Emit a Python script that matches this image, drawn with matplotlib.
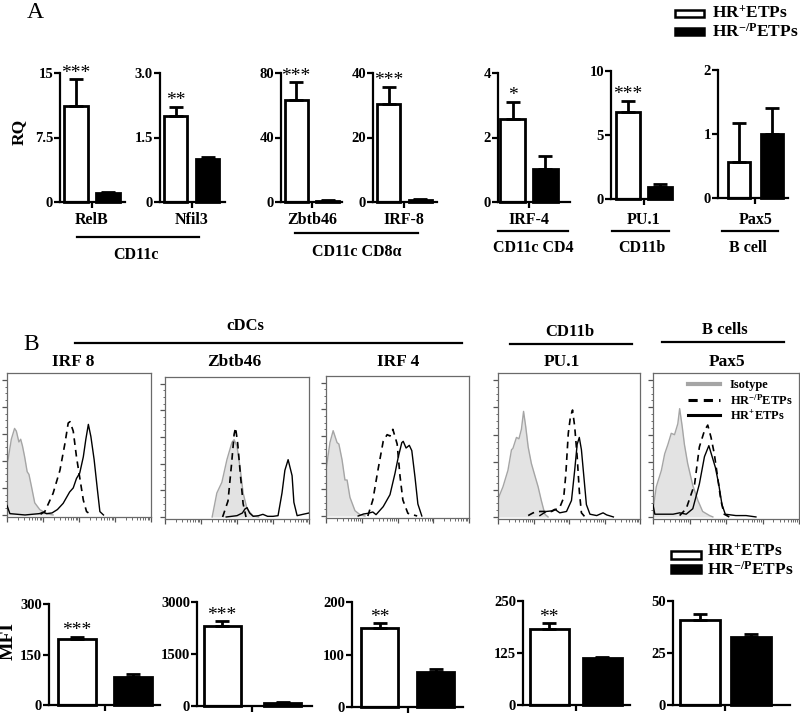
import matplotlib
matplotlib.use('Agg')
import matplotlib.pyplot as plt
import numpy as np
from matplotlib.lines import Line2D
from matplotlib.patches import Rectangle

plt.rcParams['font.family'] = ['Liberation Serif', 'DejaVu Serif']
plt.rcParams['font.weight'] = 'bold'
plt.rcParams['mathtext.fontset'] = 'custom'
plt.rcParams['mathtext.rm'] = 'Liberation Serif:bold'
plt.rcParams['mathtext.bf'] = 'Liberation Serif:bold'
plt.rcParams['mathtext.it'] = 'Liberation Serif:bold'

# ---------------- Panel A data (RQ) ----------------
rq_genes = ['RelB', 'Nfil3', 'Zbtb46', 'IRF-8', 'IRF-4', 'PU.1', 'Pax5']
rq_hr_pos = [11.2, 2.0, 63, 30.5, 2.56, 6.8, 0.57]
rq_hr_pos_err = [3.1, 0.22, 11.5, 5.3, 0.55, 0.88, 0.60]
rq_hr_neg = [1.0, 1.0, 0.8, 0.7, 1.02, 0.96, 1.0]
rq_hr_neg_err = [0.2, 0.05, 0.3, 0.2, 0.42, 0.21, 0.40]
rq_ymax = [15, 3.0, 80, 40, 4, 10, 2]
rq_ticklabels = [['0', '7.5', '15'], ['0', '1.5', '3.0'], ['0', '40', '80'],
                 ['0', '20', '40'], ['0', '2', '4'], ['0', '5', '10'], ['0', '1', '2']]
rq_stars = ['***', '**', '***', '***', '*', '***', '']
rq_groups = ['CD11c', 'CD11c CD8α', 'CD11c CD4', 'CD11b', 'B cell']

# ---------------- Panel B bottom data (MFI) ----------------
mfi_markers = ['IRF 8', 'Zbtb46', 'IRF 4', 'PU.1', 'Pax5']
mfi_hr_pos = [195, 2300, 150, 183, 41]
mfi_hr_pos_err = [8, 145, 10, 13, 2.8]
mfi_hr_neg = [84, 90, 66, 113, 32.5]
mfi_hr_neg_err = [8, 15, 6, 2, 1.6]
mfi_ymax = [300, 3000, 200, 250, 50]
mfi_ticklabels = [['0', '150', '300'], ['0', '1500', '3000'], ['0', '100', '200'],
                  ['0', '125', '250'], ['0', '25', '50']]
mfi_stars = ['***', '***', '**', '**', '']
hist_groups = ['cDCs', 'CD11b', 'B cells']

# ---------------- Histogram curves (x: log decades, y: % of max) ----------------
irf8_iso_x = [0.0, 0.03, 0.12, 0.21, 0.26, 0.33, 0.38, 0.43, 0.49, 0.56, 0.61, 0.68, 0.77, 0.91, 1.10, 1.28]
irf8_iso_y = [38, 41, 56, 64, 62, 54, 56, 51, 43, 32, 30, 21, 9, 4, 1, 0]
irf8_neg_x = [0.93, 1.05, 1.28, 1.47, 1.61, 1.70, 1.75, 1.84, 1.93, 2.03, 2.12, 2.21, 2.35]
irf8_neg_y = [0.5, 2.5, 16, 33, 53, 68, 69, 62, 43, 26, 11, 2.5, 0]
irf8_pos_x = [0.0, 0.08, 0.5, 0.9, 1.0, 1.1, 1.25, 1.4, 1.56, 1.74, 1.84, 1.93, 2.02, 2.12, 2.19, 2.26, 2.33, 2.42, 2.51, 2.58, 2.68]
irf8_pos_y = [7, 1, 0, 1, 2, 1, 1.5, 4, 8.6, 17, 20, 27, 31, 43, 56, 67, 58, 41, 19, 2.5, 0]

zbtb_iso_x = [1.31, 1.44, 1.58, 1.72, 1.86, 1.92, 2.0, 2.08, 2.17, 2.28, 2.44, 2.6]
zbtb_iso_y = [0, 18, 26, 43, 56, 58, 53, 38, 18, 6, 1, 0]
zbtb_neg_x = [1.6, 1.75, 1.85, 1.92, 1.96, 2.02, 2.1, 2.17, 2.25]
zbtb_neg_y = [0, 12, 40, 62, 67, 55, 30, 10, 0]
zbtb_pos_x = [1.7, 2.0, 2.15, 2.22, 2.28, 2.35, 2.45, 2.6, 2.72, 2.85, 3.0, 3.14, 3.25, 3.33, 3.42, 3.53, 3.58, 3.67, 3.83, 4.0]
zbtb_pos_y = [0, 1, 3, 6, 7, 3, 0.5, 1, 2, 0.5, 0.5, 1, 18, 35, 43, 31, 11, 1, 2, 3]

irf4_iso_x = [0.0, 0.03, 0.11, 0.2, 0.31, 0.36, 0.45, 0.53, 0.59, 0.67, 0.81, 0.95, 1.09]
irf4_iso_y = [35, 40, 55, 64, 55, 54, 42, 27, 27, 14, 4, 1, 0]
irf4_neg_x = [1.17, 1.31, 1.45, 1.6, 1.71, 1.79, 1.87, 1.99, 2.07, 2.15, 2.29, 2.55]
irf4_neg_y = [0, 12, 34, 56, 61, 60, 65, 54, 30, 12, 2, 0]
irf4_pos_x = [0.9, 1.05, 1.17, 1.31, 1.4, 1.6, 1.79, 1.93, 2.02, 2.12, 2.16, 2.24, 2.33, 2.4, 2.49, 2.57, 2.68]
irf4_pos_y = [0, 1.5, 2, 3, 1, 7, 16, 32, 44, 55, 56, 51, 53, 49, 29, 9, 0]

pu1_iso_x = [0.0, 0.03, 0.14, 0.28, 0.38, 0.42, 0.52, 0.59, 0.66, 0.72, 0.78, 0.85, 0.94, 1.04, 1.13, 1.22, 1.32, 1.41]
pu1_iso_y = [12, 15, 22, 34, 49, 50, 58, 57, 64, 77, 66, 51, 39, 30, 22, 12, 2, 0]
pu1_neg_x = [0.85, 0.99, 1.18, 1.51, 1.74, 1.85, 1.91, 1.98, 2.04, 2.1, 2.16, 2.23, 2.29, 2.35, 2.45]
pu1_neg_y = [1, 3, 4, 4, 7, 14, 31, 61, 73, 78, 66, 44, 19, 3, 0]
pu1_pos_x = [1.18, 1.36, 1.51, 1.6, 1.74, 1.93, 2.07, 2.16, 2.23, 2.29, 2.35, 2.42, 2.49, 2.59, 2.78, 2.96, 3.06, 3.25]
pu1_pos_y = [1, 4, 4.4, 5.6, 3, 4, 12, 34, 53, 58, 49, 29, 9, 2, 1, 3, 1.5, 0]

pax5_iso_x = [0.0, 0.02, 0.09, 0.23, 0.32, 0.41, 0.5, 0.59, 0.68, 0.73, 0.8, 0.86, 0.95, 1.09, 1.23, 1.36, 1.55, 1.64]
pax5_iso_y = [7, 9, 22, 34, 46, 53, 61, 60, 68, 79, 66, 53, 39, 23, 12, 4, 1, 0]
pax5_neg_x = [0.73, 0.91, 1.14, 1.27, 1.41, 1.5, 1.59, 1.68, 1.77, 1.86, 1.95, 2.09]
pax5_neg_y = [1, 6, 24, 51, 63, 67, 58, 46, 29, 12, 2, 0]
pax5_pos_x = [0.0, 0.05, 0.18, 0.55, 0.73, 0.91, 1.09, 1.27, 1.41, 1.53, 1.62, 1.71, 1.8, 1.89, 1.98, 2.27, 2.55, 2.82]
pax5_pos_y = [9, 2, 2, 2, 3, 2, 6, 24, 44, 52, 44, 36, 24, 9, 2, 1, 1, 0]

W, H = 800, 715
fig = plt.figure(figsize=(W / 100, H / 100), dpi=100)
fig.patch.set_facecolor('white')

LBL_POS = 'HR$^{+}$ETPs'
LBL_NEG = 'HR$^{-/P}$ETPs'


def px_axes(x0, y0, x1, y1):
    return fig.add_axes([x0 / W, 1 - y1 / H, (x1 - x0) / W, (y1 - y0) / H])


def ftext(x, y, s, **kw):
    kw.setdefault('ha', 'center')
    kw.setdefault('va', 'center')
    fig.text(x / W, 1 - y / H, s, **kw)


def fline(x0, x1, y, lw=1.6, color='black'):
    fig.add_artist(Line2D([x0 / W, x1 / W], [1 - y / H, 1 - y / H],
                          transform=fig.transFigure, color=color, lw=lw))


def frect(x0, y0, x1, y1, fc):
    fig.add_artist(Rectangle((x0 / W, 1 - y1 / H), (x1 - x0) / W, (y1 - y0) / H,
                             transform=fig.transFigure, facecolor=fc,
                             edgecolor='black', lw=1.8))


def bar_panel(box, c0, c1, w, vpos, epos, vneg, eneg, ymax, labels, star, fs=10.5):
    x0, y0, x1, y1 = box
    ax = px_axes(x0, y0, x1, y1)
    s = c1 - c0
    ax.set_xlim((x0 - c0) / s, (x1 - c0) / s)
    ax.set_ylim(0, ymax)
    ax.bar([0, 1], [vpos, vneg], width=w / s, color=['white', 'black'],
           edgecolor='black', linewidth=2.0, zorder=2, clip_on=False)
    ax.errorbar([0, 1], [vpos, vneg], yerr=[[0, 0], [epos, eneg]], fmt='none',
                ecolor='black', elinewidth=2.0, capsize=5, capthick=2.0, zorder=3,
                clip_on=False)
    for sp in ['top', 'right']:
        ax.spines[sp].set_visible(False)
    for sp in ['left', 'bottom']:
        ax.spines[sp].set_linewidth(1.6)
    ax.set_yticks([0, ymax / 2, ymax])
    ax.set_yticklabels(labels, fontsize=fs, fontweight='bold')
    ax.set_xticks([0.5])
    ax.set_xticklabels([''])
    ax.tick_params(axis='both', direction='out', length=4, width=1.6, pad=1)
    ax.patch.set_alpha(0)
    if star:
        ax.annotate(star, xy=(0, vpos + epos), xytext=(0, -2), textcoords='offset points',
                    ha='center', va='bottom', fontsize=14, fontweight='normal')
    return ax


# ---------------- Panel A ----------------
ftext(35, 12, 'A', fontsize=17, fontweight='normal')
ftext(19, 132, 'RQ', fontsize=12.5, rotation=90)

rq_geom = [
    ((60, 73, 125, 202), 76, 108, 24),
    ((160, 73, 225, 202), 175.5, 207.5, 23),
    ((281, 73, 342, 202), 296, 327.5, 23),
    ((373, 73, 437, 202), 388.5, 420, 23),
    ((498, 73, 570, 202), 512.5, 545, 25),
    ((611, 71, 672, 199), 627.5, 660, 24),
    ((718, 70, 788, 198), 739, 771.5, 22),
]
for i, (box, c0, c1, w) in enumerate(rq_geom):
    bar_panel(box, c0, c1, w, rq_hr_pos[i], rq_hr_pos_err[i], rq_hr_neg[i],
              rq_hr_neg_err[i], rq_ymax[i], rq_ticklabels[i], rq_stars[i])
    tick_x = c0 + 0.5 * (c1 - c0)
    ftext(tick_x, 220, rq_genes[i], fontsize=11.5)

# group lines / labels
grp_geom = [(77, 199, 237, 136, 255), (295, 418, 233, 357, 252),
            (498, 568, 231, 533, 248), (612, 669, 231, 642, 248),
            (722, 778, 231, 748, 248)]
for (gx0, gx1, gy, tx, ty), g in zip(grp_geom, rq_groups):
    fline(gx0, gx1, gy)
    ftext(tx, ty, g, fontsize=11.5)

# top legend
frect(675, 10, 704, 17, 'white')
frect(675, 28, 704, 35, 'black')
ftext(712, 14, LBL_POS, fontsize=12.5, ha='left')
ftext(712, 32, LBL_NEG, fontsize=12.5, ha='left')

# ---------------- Panel B histograms ----------------
ftext(31, 345, 'B', fontsize=17, fontweight='normal')
fline(75, 462, 343)
ftext(245, 326, hist_groups[0], fontsize=12)
fline(510, 632, 344)
ftext(570, 332, hist_groups[1], fontsize=12)
fline(662, 784, 342)
ftext(725, 330, hist_groups[2], fontsize=12)

hist_boxes = [(7, 373, 151, 517), (165, 377, 309, 519), (326, 376, 469, 518),
              (498, 373, 640, 519), (653, 373, 799, 519)]
title_x = [73, 234, 398, 562, 727]
curves = [
    (irf8_iso_x, irf8_iso_y, irf8_neg_x, irf8_neg_y, irf8_pos_x, irf8_pos_y),
    (zbtb_iso_x, zbtb_iso_y, zbtb_neg_x, zbtb_neg_y, zbtb_pos_x, zbtb_pos_y),
    (irf4_iso_x, irf4_iso_y, irf4_neg_x, irf4_neg_y, irf4_pos_x, irf4_pos_y),
    (pu1_iso_x, pu1_iso_y, pu1_neg_x, pu1_neg_y, pu1_pos_x, pu1_pos_y),
    (pax5_iso_x, pax5_iso_y, pax5_neg_x, pax5_neg_y, pax5_pos_x, pax5_pos_y),
]
minor_x = [k + np.log10(m) for k in range(4) for m in range(2, 10)]
for i, box in enumerate(hist_boxes):
    ax = px_axes(*box)
    ix, iy, nx, ny, px_, py_ = curves[i]
    ax.fill_between(ix, iy, 0, color='#e3e3e3', lw=0, zorder=1)
    ax.plot(ix, iy, color='#a5a5a5', lw=1.0, zorder=2)
    ax.plot(nx, ny, color='black', lw=1.2, ls=(0, (4, 3)), zorder=3)
    ax.plot(px_, py_, color='black', lw=1.0, zorder=4)
    ax.set_xlim(0, 4)
    ax.set_ylim(-1.5, 105)
    for sp in ax.spines.values():
        sp.set_color('#6a6a6a')
        sp.set_linewidth(0.9)
    ax.set_yticks(range(0, 101, 20))
    ax.set_yticks(range(0, 101, 5), minor=True)
    ax.set_xticks(range(0, 5))
    ax.set_xticks(minor_x, minor=True)
    ax.set_xticklabels([])
    ax.set_yticklabels([])
    ax.tick_params(which='major', direction='out', length=3.5, width=0.9, color='#555555')
    ax.tick_params(which='minor', direction='out', length=1.8, width=0.6, color='#555555')
    ftext(title_x[i], 362, mfi_markers[i], fontsize=12.5)
    if i == 4:
        h1, = ax.plot([], [], color='#a5a5a5', lw=3)
        h2, = ax.plot([], [], color='black', lw=2.2, ls=(0, (3, 2)))
        h3, = ax.plot([], [], color='black', lw=2.2)
        ax.legend([h1, h2, h3], ['Isotype', LBL_NEG, LBL_POS], loc='upper right',
                  frameon=False, fontsize=9, handlelength=2.6, handletextpad=0.8,
                  labelspacing=0.15, borderaxespad=0.3, borderpad=0.2)

# ---------------- Panel B bottom bars ----------------
ftext(8, 641, 'MFI', fontsize=14, rotation=90)
mfi_geom = [
    ((49, 604, 160, 705), 77, 132.5, 38),
    ((197, 602, 312, 706), 222, 282.5, 37),
    ((352, 602, 463, 707), 379.5, 435.5, 37),
    ((523, 601, 630, 705), 549, 602, 39),
    ((673, 601, 790, 705), 699.5, 751, 40),
]
for i, (box, c0, c1, w) in enumerate(mfi_geom):
    bar_panel(box, c0, c1, w, mfi_hr_pos[i], mfi_hr_pos_err[i], mfi_hr_neg[i],
              mfi_hr_neg_err[i], mfi_ymax[i], mfi_ticklabels[i], mfi_stars[i])

frect(671, 551, 701, 559, 'white')
frect(671, 565, 701, 573, 'black')
ftext(707, 552, LBL_POS, fontsize=12.5, ha='left')
ftext(707, 570, LBL_NEG, fontsize=12.5, ha='left')

fig.savefig('out.png', dpi=100, facecolor='white')
